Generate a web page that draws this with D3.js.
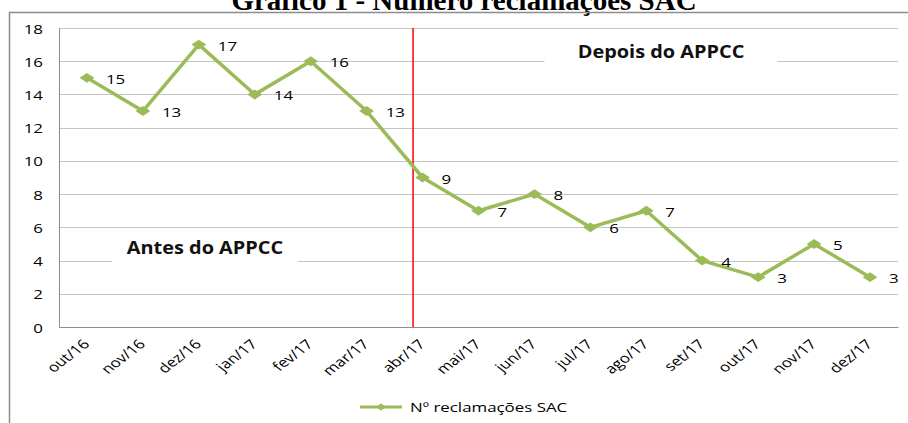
<!DOCTYPE html>
<html>
<head>
<meta charset="utf-8">
<script src="https://cdn.jsdelivr.net/npm/d3@7"></script>
<style>
  body { margin: 0; background: #fff; }
  svg { display: block; }
</style>
</head>
<body>
<div id="chart"></div>
<script>
var months = ["out/16", "nov/16", "dez/16", "jan/17", "fev/17", "mar/17", "abr/17",
  "mai/17", "jun/17", "jul/17", "ago/17", "set/17", "out/17", "nov/17", "dez/17"];
var complaints = [15, 13, 17, 14, 16, 13, 9, 7, 8, 6, 7, 4, 3, 5, 3];
var yTicks = [0, 2, 4, 6, 8, 10, 12, 14, 16, 18];
var seriesName = "Nº reclamações SAC";
var titleText = "Gráfico 1 - Número reclamações SAC";
// divider between "antes" and "depois", in category units (point index)
var dividerAt = 5.83;

var svgWidth = 908;
var svgHeight = 423;
var margin = { top: 28, right: 10, bottom: 96, left: 59 };
var width = 898 - margin.left;
var height = 327 - margin.top;
var green = "#9bbb59";
var font = "'Open Sans', sans-serif";
// the source picture is stretched sideways, so the text is too
var stretch = 1.3;

var svg = d3.select("#chart").append("svg")
  .attr("width", svgWidth)
  .attr("height", svgHeight);

// title, cut at the top edge
svg.append("text")
  .attr("x", 464)
  .attr("y", 10)
  .attr("text-anchor", "middle")
  .attr("font-family", "'Liberation Serif', 'Times New Roman', serif")
  .attr("font-weight", "bold")
  .attr("font-size", "29px")
  .text(titleText);

// chart frame
svg.append("path")
  .attr("d", "M9.5," + svgHeight + "V12.5H" + svgWidth)
  .attr("fill", "none")
  .attr("stroke", "#8c8c8c")
  .attr("stroke-width", 1.5);

var chartGroup = svg.append("g")
  .attr("transform", `translate(${margin.left}, ${margin.top})`);

var xScale = d3.scalePoint()
  .domain(months)
  .range([0, width])
  .padding(0.5);

var step = xScale.step();
var xPos = (i) => xScale(months[0]) + step * i;

var yScale = d3.scaleLinear()
  .domain([0, 18])
  .range([height, 0]);

// gridlines
chartGroup.append("g")
  .selectAll("line")
  .data(yTicks.filter((d) => d > 0))
  .enter()
  .append("line")
  .attr("x1", 0)
  .attr("x2", width)
  .attr("y1", (d) => Math.round(yScale(d)) + 0.5)
  .attr("y2", (d) => Math.round(yScale(d)) + 0.5)
  .attr("stroke", "#c4c4c4")
  .attr("stroke-width", 1);

// axes
var leftAxis = d3.axisLeft(yScale).tickValues(yTicks).tickSize(0).tickPadding(0);
var yAxis = chartGroup.append("g").call(leftAxis);
yAxis.select(".domain").attr("stroke", "#8c8c8c");
yAxis.selectAll("text")
  .attr("font-family", font)
  .attr("font-size", "13px")
  .attr("fill", "#000")
  .attr("x", 0)
  .attr("dy", 0)
  .attr("transform", `translate(-16, 5) scale(${stretch}, 1)`);

var bottomAxis = d3.axisBottom(xScale).tickSize(0).tickPadding(0);
var xAxis = chartGroup.append("g")
  .attr("transform", `translate(0, ${height})`)
  .call(bottomAxis);
xAxis.select(".domain").attr("stroke", "#8c8c8c");
xAxis.selectAll("text")
  .attr("font-family", font)
  .attr("font-size", "13px")
  .attr("fill", "#000")
  .attr("text-anchor", "end")
  .attr("y", 0)
  .attr("dy", 0)
  .attr("transform", `translate(3, 18) scale(${stretch}, 1) rotate(-45)`);

// annotation boxes
function note(cx, cy, boxW, label) {
  chartGroup.append("rect")
    .attr("x", cx - boxW / 2)
    .attr("y", cy - 20)
    .attr("width", boxW)
    .attr("height", 38)
    .attr("fill", "#fff");
  chartGroup.append("text")
    .attr("transform", `translate(${cx}, ${cy + 6}) scale(1.17, 1)`)
    .attr("text-anchor", "middle")
    .attr("font-family", font)
    .attr("font-weight", "bold")
    .attr("font-size", "17px")
    .attr("fill", "#111")
    .text(label);
}
note(205 - margin.left, 248 - margin.top, 186, "Antes do APPCC");
note(661 - margin.left, 52 - margin.top, 233, "Depois do APPCC");

// divider line
chartGroup.append("line")
  .attr("x1", xPos(dividerAt))
  .attr("x2", xPos(dividerAt))
  .attr("y1", yScale(18))
  .attr("y2", yScale(0))
  .attr("stroke", "#ff0000")
  .attr("stroke-width", 1.5);

// series line
var line = d3.line()
  .x((d, i) => xScale(months[i]))
  .y((d) => yScale(d));

chartGroup.append("path")
  .datum(complaints)
  .attr("d", line)
  .attr("fill", "none")
  .attr("stroke", green)
  .attr("stroke-width", 3.5)
  .attr("stroke-linejoin", "round");

var diamond = d3.symbol().type(d3.symbolDiamond2).size(62);

chartGroup.selectAll(".marker")
  .data(complaints)
  .enter()
  .append("path")
  .attr("class", "marker")
  .attr("d", diamond)
  .attr("transform", (d, i) => `translate(${xScale(months[i])}, ${yScale(d)}) scale(1.5, 1)`)
  .attr("fill", green);

chartGroup.selectAll(".dataLabel")
  .data(complaints)
  .enter()
  .append("text")
  .attr("class", "dataLabel")
  .attr("transform", (d, i) => `translate(${xScale(months[i]) + 19}, ${yScale(d) + 6}) scale(${stretch}, 1)`)
  .attr("font-family", font)
  .attr("font-size", "13px")
  .attr("fill", "#000")
  .text((d) => d);

// legend
var legend = svg.append("g").attr("transform", "translate(360, 407)");
legend.append("line")
  .attr("x1", 0)
  .attr("x2", 42)
  .attr("stroke", green)
  .attr("stroke-width", 3);
legend.append("path")
  .attr("d", d3.symbol().type(d3.symbolDiamond2).size(30))
  .attr("transform", "translate(21, 0) scale(1.5, 1)")
  .attr("fill", green);
legend.append("text")
  .attr("transform", `translate(50, 5) scale(${stretch}, 1)`)
  .attr("font-family", font)
  .attr("font-size", "13px")
  .attr("fill", "#000")
  .text(seriesName);
</script>
</body>
</html>
